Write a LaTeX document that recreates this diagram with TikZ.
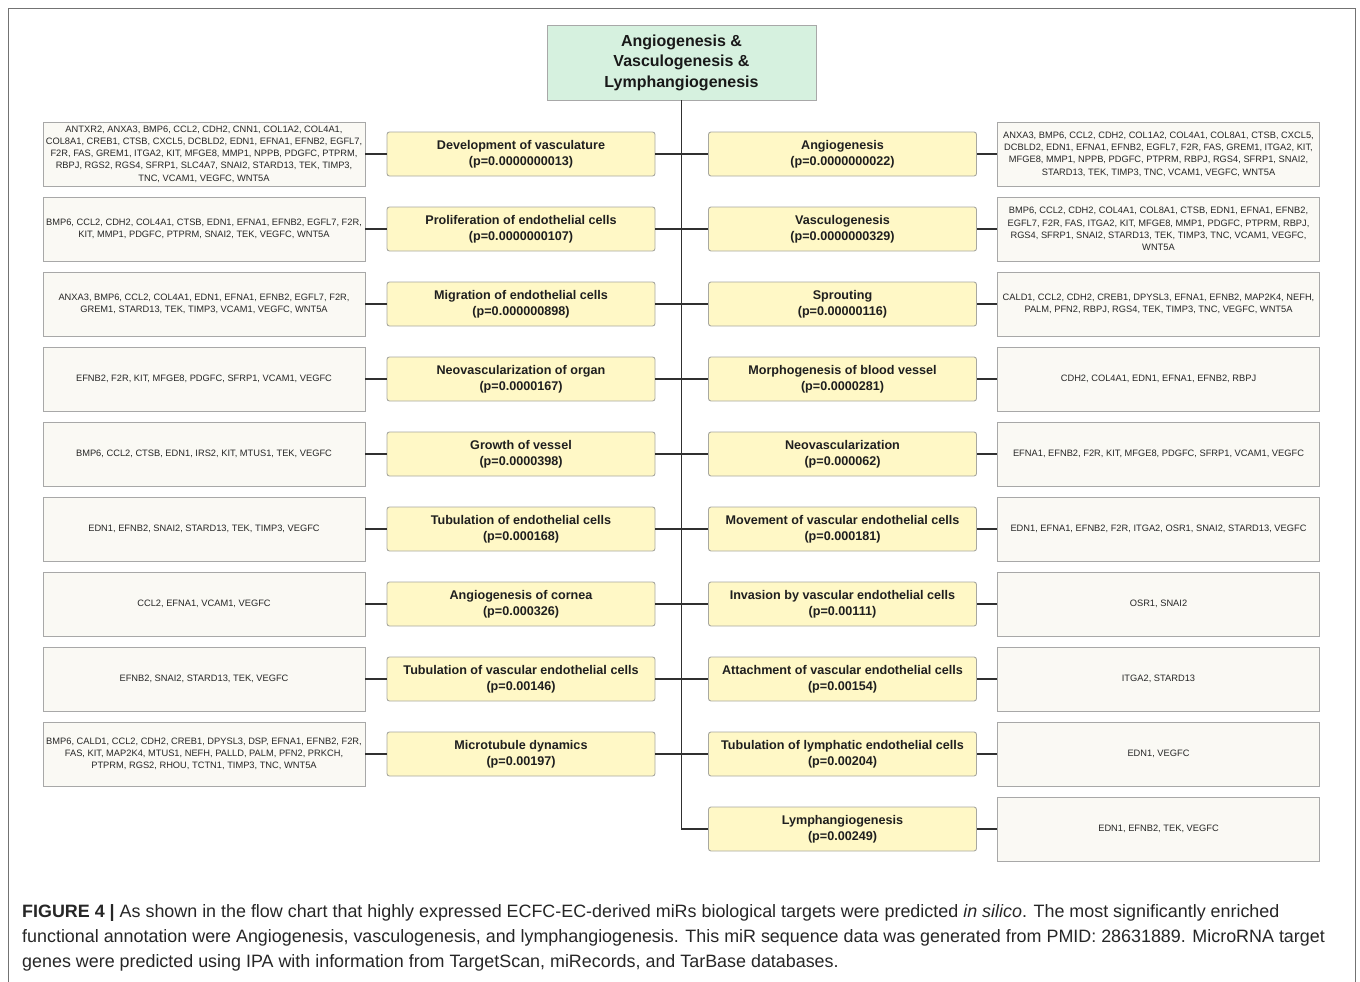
\documentclass[tikz,border=0pt]{standalone}
\usepackage{fontspec}
\setmainfont{Liberation Sans}
\definecolor{midfill}{HTML}{FFF8C6}
\definecolor{midline}{HTML}{A8A8A0}
\definecolor{genefill}{HTML}{FAF9F4}
\definecolor{geneline}{HTML}{A8A8A8}
\definecolor{topfill}{HTML}{D6F1DF}
\definecolor{conncol}{HTML}{303030}
\tikzset{
  mid/.style={draw=midline, fill=midfill, rounded corners=2.5pt, line width=0.9pt,
    minimum width=268pt, minimum height=44pt, inner sep=1pt, align=center,
    font=\fontsize{12.6}{16}\selectfont\bfseries, text=black!88},
  gene/.style={draw=geneline, fill=genefill, line width=0.9pt,
    minimum width=322pt, minimum height=64pt, inner sep=0pt, align=center,
    font=\fontsize{9.3}{12.3}\selectfont, text=black!85},
  topbox/.style={draw=geneline, fill=topfill, line width=0.9pt,
    minimum width=269pt, minimum height=75pt, inner sep=1pt, align=center,
    font=\fontsize{16}{20.5}\selectfont\bfseries, text=black!90},
  conn/.style={draw=conncol, line width=1.2pt},
  captxt/.style={anchor=base west, inner sep=0pt, font=\fontsize{17.9}{25}\selectfont, text=black!85}
}
\newcommand\lrow[5]{%
  \node[mid] (ml#1) at (521,#2) {#3\\(p=#4)};
  \node[gene] (gl#1) at (204,#2) {#5};
  \draw[conn] (gl#1.east) -- (ml#1.west);
}
\newcommand\rrow[5]{%
  \node[mid] (mr#1) at (842.5,#2) {#3\\(p=#4)};
  \node[gene] (gr#1) at (1158.5,#2) {#5};
  \draw[conn] (mr#1.east) -- (gr#1.west);
}
\begin{document}
\begin{tikzpicture}[x=1pt,y=-1pt]
\useasboundingbox (0,0) rectangle (1360,982);
\draw[draw=black!55, line width=0.8pt] (8,8) rectangle (1355,995);
\node[topbox] (top) at (681.5,62.5) {Angiogenesis \&\\Vasculogenesis \&\\Lymphangiogenesis};

\lrow{1}{154}{Development of vasculature}{0.0000000013}{ANTXR2, ANXA3, BMP6, CCL2, CDH2, CNN1, COL1A2, COL4A1,\\COL8A1, CREB1, CTSB, CXCL5, DCBLD2, EDN1, EFNA1, EFNB2, EGFL7,\\F2R, FAS, GREM1, ITGA2, KIT, MFGE8, MMP1, NPPB, PDGFC, PTPRM,\\RBPJ, RGS2, RGS4, SFRP1, SLC4A7, SNAI2, STARD13, TEK, TIMP3,\\TNC, VCAM1, VEGFC, WNT5A}
\lrow{2}{229}{Proliferation of endothelial cells}{0.0000000107}{BMP6, CCL2, CDH2, COL4A1, CTSB, EDN1, EFNA1, EFNB2, EGFL7, F2R,\\KIT, MMP1, PDGFC, PTPRM, SNAI2, TEK, VEGFC, WNT5A}
\lrow{3}{304}{Migration of endothelial cells}{0.000000898}{ANXA3, BMP6, CCL2, COL4A1, EDN1, EFNA1, EFNB2, EGFL7, F2R,\\GREM1, STARD13, TEK, TIMP3, VCAM1, VEGFC, WNT5A}
\lrow{4}{379}{Neovascularization of organ}{0.0000167}{EFNB2, F2R, KIT, MFGE8, PDGFC, SFRP1, VCAM1, VEGFC}
\lrow{5}{454}{Growth of vessel}{0.0000398}{BMP6, CCL2, CTSB, EDN1, IRS2, KIT, MTUS1, TEK, VEGFC}
\lrow{6}{529}{Tubulation of endothelial cells}{0.000168}{EDN1, EFNB2, SNAI2, STARD13, TEK, TIMP3, VEGFC}
\lrow{7}{604}{Angiogenesis of cornea}{0.000326}{CCL2, EFNA1, VCAM1, VEGFC}
\lrow{8}{679}{Tubulation of vascular endothelial cells}{0.00146}{EFNB2, SNAI2, STARD13, TEK, VEGFC}
\lrow{9}{754}{Microtubule dynamics}{0.00197}{BMP6, CALD1, CCL2, CDH2, CREB1, DPYSL3, DSP, EFNA1, EFNB2, F2R,\\FAS, KIT, MAP2K4, MTUS1, NEFH, PALLD, PALM, PFN2, PRKCH,\\PTPRM, RGS2, RHOU, TCTN1, TIMP3, TNC, WNT5A}

\rrow{1}{154}{Angiogenesis}{0.0000000022}{ANXA3, BMP6, CCL2, CDH2, COL1A2, COL4A1, COL8A1, CTSB, CXCL5,\\DCBLD2, EDN1, EFNA1, EFNB2, EGFL7, F2R, FAS, GREM1, ITGA2, KIT,\\MFGE8, MMP1, NPPB, PDGFC, PTPRM, RBPJ, RGS4, SFRP1, SNAI2,\\STARD13, TEK, TIMP3, TNC, VCAM1, VEGFC, WNT5A}
\rrow{2}{229}{Vasculogenesis}{0.0000000329}{BMP6, CCL2, CDH2, COL4A1, COL8A1, CTSB, EDN1, EFNA1, EFNB2,\\EGFL7, F2R, FAS, ITGA2, KIT, MFGE8, MMP1, PDGFC, PTPRM, RBPJ,\\RGS4, SFRP1, SNAI2, STARD13, TEK, TIMP3, TNC, VCAM1, VEGFC,\\WNT5A}
\rrow{3}{304}{Sprouting}{0.00000116}{CALD1, CCL2, CDH2, CREB1, DPYSL3, EFNA1, EFNB2, MAP2K4, NEFH,\\PALM, PFN2, RBPJ, RGS4, TEK, TIMP3, TNC, VEGFC, WNT5A}
\rrow{4}{379}{Morphogenesis of blood vessel}{0.0000281}{CDH2, COL4A1, EDN1, EFNA1, EFNB2, RBPJ}
\rrow{5}{454}{Neovascularization}{0.000062}{EFNA1, EFNB2, F2R, KIT, MFGE8, PDGFC, SFRP1, VCAM1, VEGFC}
\rrow{6}{529}{Movement of vascular endothelial cells}{0.000181}{EDN1, EFNA1, EFNB2, F2R, ITGA2, OSR1, SNAI2, STARD13, VEGFC}
\rrow{7}{604}{Invasion by vascular endothelial cells}{0.00111}{OSR1, SNAI2}
\rrow{8}{679}{Attachment of vascular endothelial cells}{0.00154}{ITGA2, STARD13}
\rrow{9}{754}{Tubulation of lymphatic endothelial cells}{0.00204}{EDN1, VEGFC}
\rrow{10}{829}{Lymphangiogenesis}{0.00249}{EDN1, EFNB2, TEK, VEGFC}

% trunk and branches
\draw[conn] (top.south) |- (mr10.west);
\foreach \i in {1,...,9} { \draw[conn] (ml\i.east) -- (mr\i.west); }

% caption
\node[captxt] (c1) at (22,917) {\textbf{FIGURE 4 |} As shown in the flow chart that highly expressed ECFC-EC-derived miRs biological targets were predicted \textit{in silico}. The most significantly enriched};
\node[captxt] (c2) at (22,942) {functional annotation were Angiogenesis, vasculogenesis, and lymphangiogenesis. This miR sequence data was generated from PMID: 28631889. MicroRNA target};
\node[captxt] (c3) at (22,967) {genes were predicted using IPA with information from TargetScan, miRecords, and TarBase databases.};
\end{tikzpicture}
\end{document}
